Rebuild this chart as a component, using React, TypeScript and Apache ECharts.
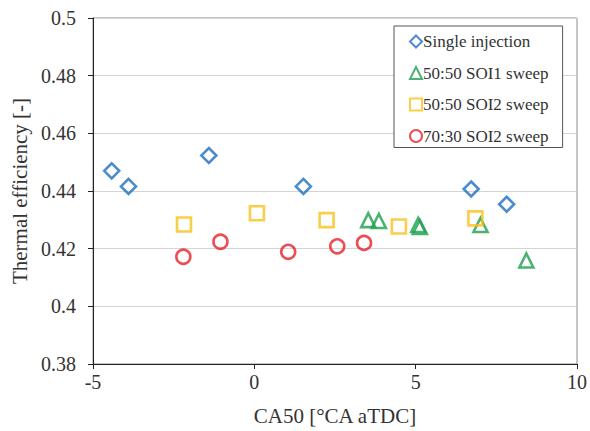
import React, { useEffect, useRef } from "react";
import * as echarts from "echarts";

const singleInjection: [number, number][] = [
  [-4.42, 0.447], [-3.9, 0.4416], [-1.41, 0.4523], [1.52, 0.4416], [6.72, 0.4407], [7.82, 0.4354],
];
const soi1Sweep: [number, number][] = [
  [3.53, 0.4299], [3.86, 0.4296], [5.08, 0.4282], [5.13, 0.4275], [7.01, 0.4282], [8.43, 0.4159],
];
const soi2Sweep5050: [number, number][] = [
  [-2.18, 0.4284], [0.08, 0.4323], [2.24, 0.4299], [4.48, 0.4277], [6.85, 0.4305],
];
const soi2Sweep7030: [number, number][] = [
  [-2.2, 0.4172], [-1.05, 0.4224], [1.05, 0.4189], [2.57, 0.4208], [3.4, 0.422],
];

const seriesNames = ["Single injection", "50:50 SOI1 sweep", "50:50 SOI2 sweep", "70:30 SOI2 sweep"];
const xTicks = { min: -5, max: 10, interval: 5 };
const yTicks = { min: 0.38, max: 0.5, interval: 0.02 };

const FONT = "Liberation Serif";

export default function App() {
  const ref = useRef<HTMLDivElement>(null);
  useEffect(() => {
    if (!ref.current) return;
    const chart = echarts.init(ref.current, undefined, { renderer: "svg" });
    const mk = (name: string, data: [number, number][], symbol: string, color: string, size: number) => ({
      name,
      type: "scatter",
      data,
      symbol,
      symbolSize: size,
      itemStyle: { color: "rgba(255,255,255,0)", borderColor: color, borderWidth: 2.6 },
    });
    chart.setOption({
      animation: false,
      textStyle: { fontFamily: FONT },
      grid: {
        left: 93, right: 13, top: 18, bottom: 65,
        show: true, borderColor: "#8c8c8c", borderWidth: 1,
      },
      xAxis: {
        type: "value",
        min: xTicks.min, max: xTicks.max, interval: xTicks.interval,
        name: "CA50 [°CA aTDC]",
        nameLocation: "middle",
        nameGap: 41,
        nameTextStyle: { fontFamily: FONT, fontSize: 21, color: "#333" },
        axisLine: { show: true, onZero: false, lineStyle: { color: "#222", width: 1 } },
        axisTick: { show: true, length: 5, lineStyle: { color: "#222" } },
        axisLabel: { fontFamily: FONT, fontSize: 20, color: "#333", margin: 8 },
        splitLine: { show: false },
      },
      yAxis: {
        type: "value",
        min: yTicks.min, max: yTicks.max, interval: yTicks.interval,
        name: "Thermal efficiency [-]",
        nameLocation: "middle",
        nameGap: 62,
        nameTextStyle: { fontFamily: FONT, fontSize: 21, color: "#333" },
        axisLine: { show: true, onZero: false, lineStyle: { color: "#222", width: 1 } },
        axisTick: { show: true, length: 5, lineStyle: { color: "#222" } },
        axisLabel: { fontFamily: FONT, fontSize: 20, color: "#333", margin: 17 },
        splitLine: { show: true, lineStyle: { color: "#d4d4d4", width: 1 } },
      },
      legend: {
        orient: "vertical",
        left: 394,
        top: 26,
        padding: [7, 14, 3, 15],
        itemGap: 14.5,
        itemWidth: 12,
        itemHeight: 12,
        borderColor: "#555",
        borderWidth: 1,
        backgroundColor: "#fff",
        textStyle: { fontFamily: FONT, fontSize: 17, color: "#333", padding: [0, 0, 0, -4] },
        data: seriesNames,
      },
      series: [
        mk(seriesNames[0], singleInjection, "diamond", "#1f6fbf", 15),
        mk(seriesNames[1], soi1Sweep, "triangle", "#1ea04f", 14),
        mk(seriesNames[2], soi2Sweep5050, "rect", "#f7c21a", 14),
        mk(seriesNames[3], soi2Sweep7030, "circle", "#e8202a", 14),
      ],
    });
    return () => chart.dispose();
  }, []);
  return <div ref={ref} style={{ position: "absolute", left: 0, top: 0, width: 590, height: 431 }} />;
}
